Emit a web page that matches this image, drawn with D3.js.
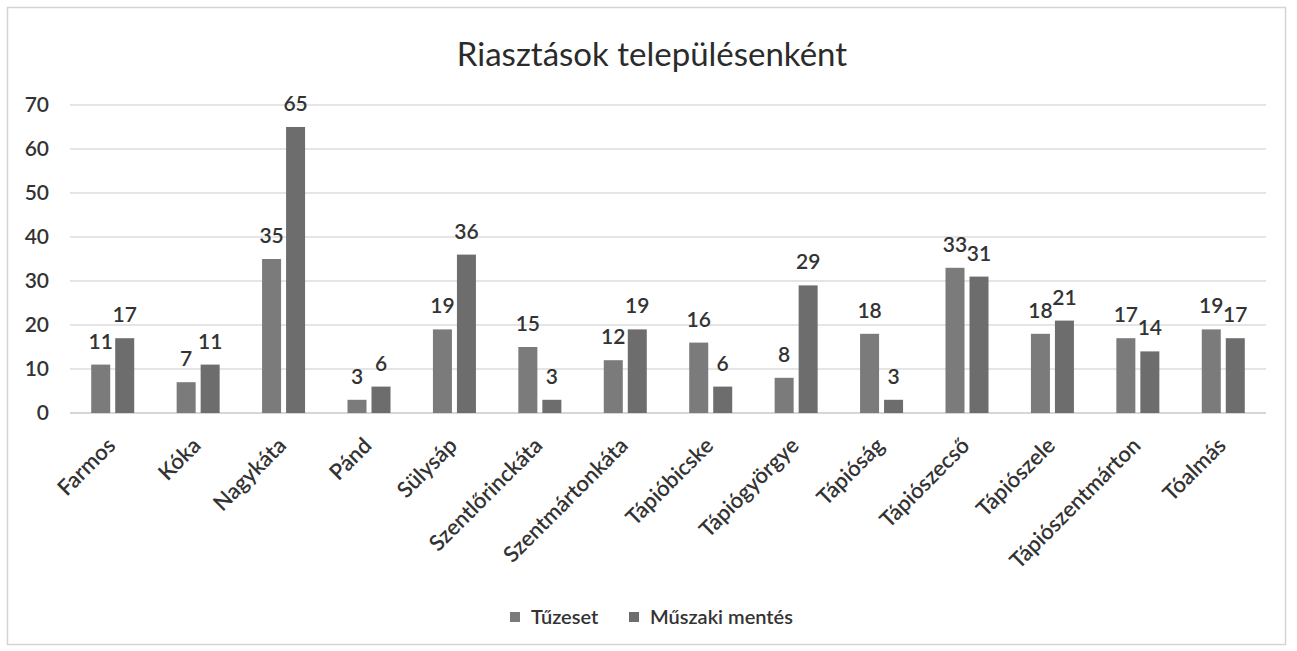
<!DOCTYPE html>
<html>
<head>
<meta charset="utf-8">
<script src="https://d3js.org/d3.v7.min.js"></script>
<style>
  body { margin: 0; background: #fff; }
  svg { font-family: Lato, "Open Sans", sans-serif; }
</style>
</head>
<body>
<svg id="chart" width="1297" height="651"></svg>
<script>
// data
var towns = ["Farmos", "Kóka", "Nagykáta", "Pánd", "Sülysáp", "Szentlőrinckáta", "Szentmártonkáta",
             "Tápióbicske", "Tápiógyörgye", "Tápióság", "Tápiószecső", "Tápiószele", "Tápiószentmárton", "Tóalmás"]
var tuzeset = [11, 7, 35, 3, 19, 15, 12, 16, 8, 18, 33, 18, 17, 19]
var muszaki = [17, 11, 65, 6, 36, 3, 19, 6, 29, 3, 31, 21, 14, 17]
var seriesNames = ["Tűzeset", "Műszaki mentés"]
var yTicks = [0, 10, 20, 30, 40, 50, 60, 70]

var colors = ["#7b7b7b", "#6d6d6d"]
var ink = "#333"

var svg = d3.select("#chart")

// frame
svg.append("rect")
    .attr("x", 7.5).attr("y", 7.5).attr("width", 1278).attr("height", 637)
    .attr("fill", "#fff").attr("stroke", "#d4d4d4").attr("stroke-width", 1.5)

svg.append("text")
    .attr("x", 652).attr("y", 66)
    .attr("text-anchor", "middle")
    .attr("font-size", 33)
    .attr("fill", "#2b2b2b")
    .text("Riasztások településenként")

var x = d3.scaleBand().domain(towns).range([70, 1266])
var y = d3.scaleLinear().domain([0, 70]).range([413, 105])
var barW = 19, gap = 5

var g = svg.append("g")

// gridlines
g.selectAll(".grid").data(yTicks).enter().append("line")
    .attr("x1", 70).attr("x2", 1266)
    .attr("y1", function(d) { return y(d) }).attr("y2", function(d) { return y(d) })
    .attr("stroke", function(d) { return d === 0 ? "#c8c8c8" : "#dcdcdc" })
    .attr("stroke-width", 1.5)

var yAxis = svg.append("g").attr("transform", "translate(58,0)")
    .call(d3.axisLeft(y).tickValues(yTicks).tickSize(0).tickPadding(9))
yAxis.select(".domain").remove()
yAxis.selectAll("text").attr("font-size", 21).attr("font-weight", 600).attr("fill", ink).attr("font-family", "Lato, sans-serif")

var rows = towns.map(function(t, i) { return { town: t, vals: [tuzeset[i], muszaki[i]] } })

var groups = g.selectAll(".grp").data(rows).enter().append("g")
    .attr("transform", function(d) { return "translate(" + (x(d.town) + x.bandwidth() / 2) + ",0)" })

groups.selectAll("rect").data(function(d) { return d.vals }).enter().append("rect")
    .attr("x", function(v, i) { return i === 0 ? -barW - gap / 2 : gap / 2 })
    .attr("y", function(v) { return y(v) })
    .attr("width", barW)
    .attr("height", function(v) { return y(0) - y(v) })
    .attr("fill", function(v, i) { return colors[i] })

groups.selectAll(".lbl").data(function(d) { return d.vals }).enter().append("text")
    .attr("x", function(v, i) { return i === 0 ? -barW / 2 - gap / 2 : barW / 2 + gap / 2 })
    .attr("y", function(v) { return y(v) - 16 })
    .attr("text-anchor", "middle")
    .attr("font-size", 21)
    .attr("font-weight", 600)
    .attr("fill", ink)
    .text(function(v) { return v })

// category labels, rotated
var xAxis = svg.append("g").attr("transform", "translate(0,413)")
    .call(d3.axisBottom(x).tickSize(0).tickPadding(0))
xAxis.select(".domain").remove()
xAxis.selectAll("text")
    .attr("font-size", 22)
    .attr("font-weight", 600)
    .attr("fill", ink)
    .attr("font-family", "Lato, sans-serif")
    .attr("text-anchor", "end")
    .attr("dy", null)
    .attr("transform", "translate(4,34) rotate(-45)")

// legend
var legend = svg.append("g").attr("transform", "translate(510,617)")
var legX = [0, 119]
seriesNames.forEach(function(n, i) {
    legend.append("rect").attr("x", legX[i]).attr("y", -5).attr("width", 10).attr("height", 10).attr("fill", colors[i])
    legend.append("text").attr("x", legX[i] + 21).attr("y", 0).attr("dy", "0.35em")
        .attr("font-size", 20).attr("font-weight", 600).attr("fill", ink).text(n)
})
</script>
</body>
</html>
